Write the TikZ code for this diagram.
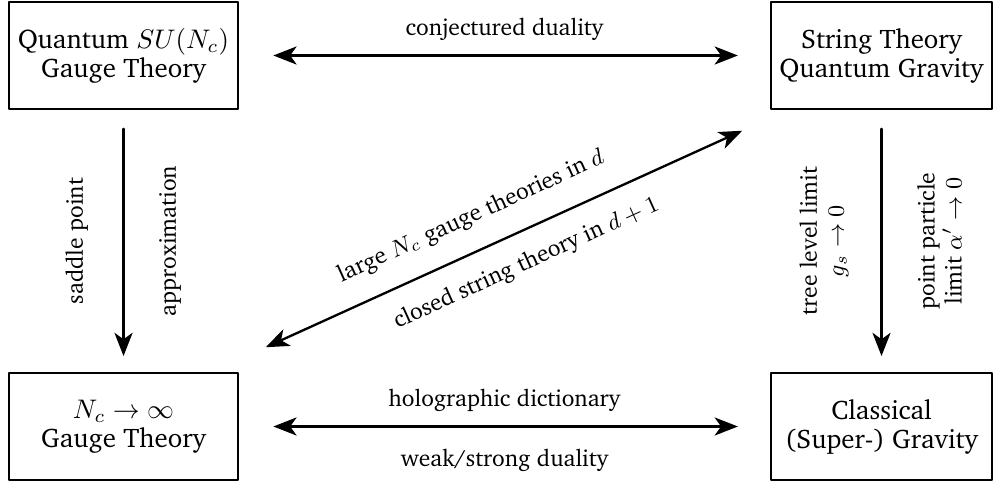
\documentclass[tikz,border=0pt]{standalone}
\usepackage{fix-cm}
\usepackage[T1]{fontenc}
\usepackage{charter}
\usepackage{amsmath}
\usetikzlibrary{arrows.meta}

\begin{document}
\begin{tikzpicture}[
    line cap=round,
    line join=round,
    every node/.style={font=\fontsize{9.1}{10.5}\selectfont},
    theorybox/.style={draw, line width=0.6pt, align=center,
        font=\fontsize{10.4}{11.3}\selectfont,
        minimum height=1.455cm, inner sep=0pt},
    link/.style={line width=0.9pt,
        {Stealth[length=9pt,width=7pt,inset=2.5pt]}-{Stealth[length=9pt,width=7pt,inset=2.5pt]}},
    tolink/.style={line width=0.9pt, -{Stealth[length=9pt,width=7pt,inset=2.5pt]}}
]

\useasboundingbox (0,0) rectangle (13.52,6.597);

% -----------------------------
% Four theories
% -----------------------------
\node[theorybox, minimum width=3.115cm] (qgauge) at (1.680,5.842)
{Quantum $SU(N_c)$\\Gauge Theory};
\node[theorybox, minimum width=3.006cm] (string) at (11.990,5.842)
{String Theory\\Quantum Gravity};
\node[theorybox, minimum width=3.115cm] (largen) at (1.680,0.796)
{$N_c\to\infty$\\Gauge Theory};
\node[theorybox, minimum width=3.006cm] (gravity) at (11.990,0.796)
{Classical\\(Super-) Gravity};

% -----------------------------
% Horizontal dualities
% -----------------------------
\draw[link, shorten <=0.47cm, shorten >=0.44cm]
(qgauge) -- (string)
node[midway, above=2pt] (conj) {conjectured duality};

\draw[link, shorten <=0.47cm, shorten >=0.44cm]
(largen) -- (gravity)
node[midway, above=2pt] (holo) {holographic dictionary}
node[midway, below=5pt] (weak) {weak/strong duality};

% -----------------------------
% Vertical limits
% -----------------------------
\draw[tolink, shorten <=0.26cm, shorten >=0.22cm]
(qgauge) -- (largen)
node[midway, xshift=-10pt, rotate=90, anchor=south] (saddle) {saddle point}
node[midway, xshift=10pt, rotate=90, anchor=north] (approx) {approximation};

\draw[tolink, shorten <=0.26cm, shorten >=0.22cm]
(string) -- (gravity)
node[midway, xshift=-9pt, rotate=90, anchor=south, align=center] (tree)
{tree level limit\\$g_s\to 0$}
node[midway, xshift=10pt, rotate=90, anchor=north, align=center] (point)
{point particle\\limit $\alpha'\to 0$};

% -----------------------------
% Diagonal: large N_c
% -----------------------------
\draw[link]
([shift={(0.367,0.34)}]largen.north east) -- ([shift={(-0.381,-0.285)}]string.south west)
node[pos=0.46, sloped, above=5pt] (gauged) {large $N_c$ gauge theories in $d$}
node[pos=0.52, sloped, below=4pt] (closed) {closed string theory in $d+1$};

\end{tikzpicture}
\end{document}
